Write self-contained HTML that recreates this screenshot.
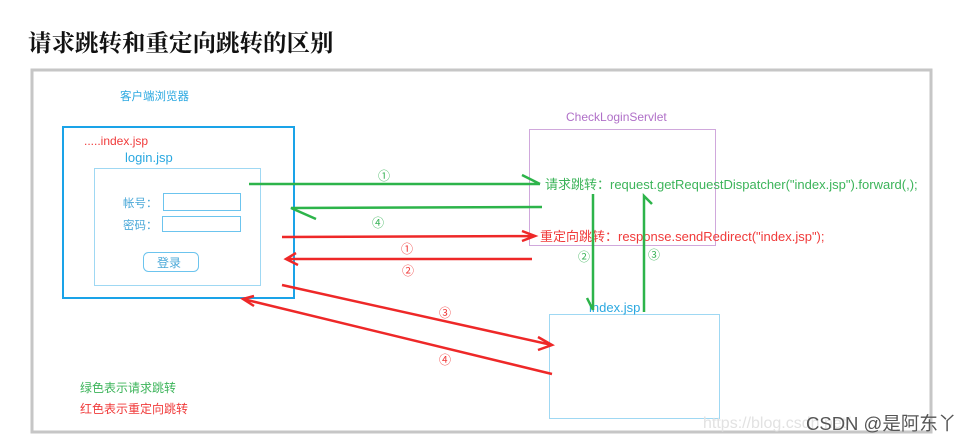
<!DOCTYPE html>
<html><head><meta charset="utf-8"><style>
html,body{margin:0;padding:0;background:#fff;width:972px;height:441px;overflow:hidden}
svg{display:block}
text{font-family:"Liberation Sans","Noto Sans CJK SC",sans-serif}
</style></head><body>
<svg width="972" height="441" viewBox="0 0 972 441" xmlns="http://www.w3.org/2000/svg">
<text x="28" y="51" font-size="23.5" font-weight="bold" fill="#111" style="font-family:'Liberation Serif','Noto Serif CJK SC',serif">请求跳转和重定向跳转的区别</text>
<rect x="32" y="70" width="899" height="362" fill="none" stroke="#c6c6c6" stroke-width="3"/>
<text x="120" y="100" font-size="11.5" fill="#2aa8e0">客户端浏览器</text>
<rect x="63" y="127" width="231" height="171" fill="none" stroke="#1aa3e8" stroke-width="2"/>
<text x="84" y="145" font-size="12" fill="#f03a3a">.....index.jsp</text>
<text x="125" y="162" font-size="13" fill="#2aa8e0">login.jsp</text>
<rect x="94.5" y="168.5" width="166" height="117" fill="none" stroke="#9fd8f3" stroke-width="1"/>
<text x="123" y="207" font-size="11.5" fill="#4aa8d8">帐号：</text>
<rect x="163.5" y="193.5" width="77" height="17" fill="none" stroke="#6cc4ee" stroke-width="1"/>
<text x="123" y="229" font-size="11.5" fill="#4aa8d8">密码：</text>
<rect x="162.5" y="216.5" width="78" height="15" fill="none" stroke="#6cc4ee" stroke-width="1"/>
<rect x="143.5" y="252.5" width="55" height="19" rx="5" fill="none" stroke="#6cc4ee" stroke-width="1"/>
<text x="157" y="267" font-size="12" fill="#4aa8d8">登录</text>
<text x="566" y="121" font-size="12" fill="#b070c8">CheckLoginServlet</text>
<rect x="529.5" y="129.5" width="186" height="116" fill="none" stroke="#d0a8dc" stroke-width="1"/>
<text x="545" y="189" font-size="13" fill="#3cb45a">请求跳转：request.getRequestDispatcher("index.jsp").forward(,);</text>
<text x="540" y="241" font-size="13" fill="#f03a3a">重定向跳转：response.sendRedirect("index.jsp");</text>
<rect x="549.5" y="314.5" width="170" height="104" fill="none" stroke="#9fd8f3" stroke-width="1"/>
<text x="589" y="312" font-size="13" fill="#2aa8e0">index.jsp</text>
<g stroke="#2db44a" stroke-width="2.5" fill="none">
<path d="M249 184 L540 184 M522 175 L540 184"/>
<path d="M542 207 L291 208 L316 219"/>
<path d="M593 194 L593 310 M587 298 L593 310"/>
<path d="M644 312 L644 196 L652 204"/>
</g>
<g stroke="#ee2828" stroke-width="2.5" fill="none">
<path d="M282 237 L535 236 M522 231 L535 236 L522 241"/>
<path d="M532 259 L286 259 M296 253 L286 259 L298 265"/>
<path d="M282 285 L552 345 M538 337 L552 345 L538 350"/>
<path d="M552 374 L243 299 M254 306 L243 299 L254 296"/>
</g>
<g font-size="12">
<text x="378" y="180" fill="#3cb45a">①</text>
<text x="372" y="227" fill="#3cb45a">④</text>
<text x="401" y="253" fill="#f03a3a">①</text>
<text x="402" y="275" fill="#f03a3a">②</text>
<text x="578" y="261" fill="#3cb45a">②</text>
<text x="648" y="259" fill="#3cb45a">③</text>
<text x="439" y="317" fill="#f03a3a">③</text>
<text x="439" y="364" fill="#f03a3a">④</text>
</g>
<text x="80" y="392" font-size="12" fill="#3cb45a">绿色表示请求跳转</text>
<text x="80" y="413" font-size="12" fill="#f03a3a">红色表示重定向跳转</text>
<text x="703" y="428" font-size="16" fill="#e2e2e2">https://blog.csdn.net/</text>
<text x="806" y="430" font-size="18.5" fill="#555">CSDN @是阿东丫</text>
</svg>
</body></html>
